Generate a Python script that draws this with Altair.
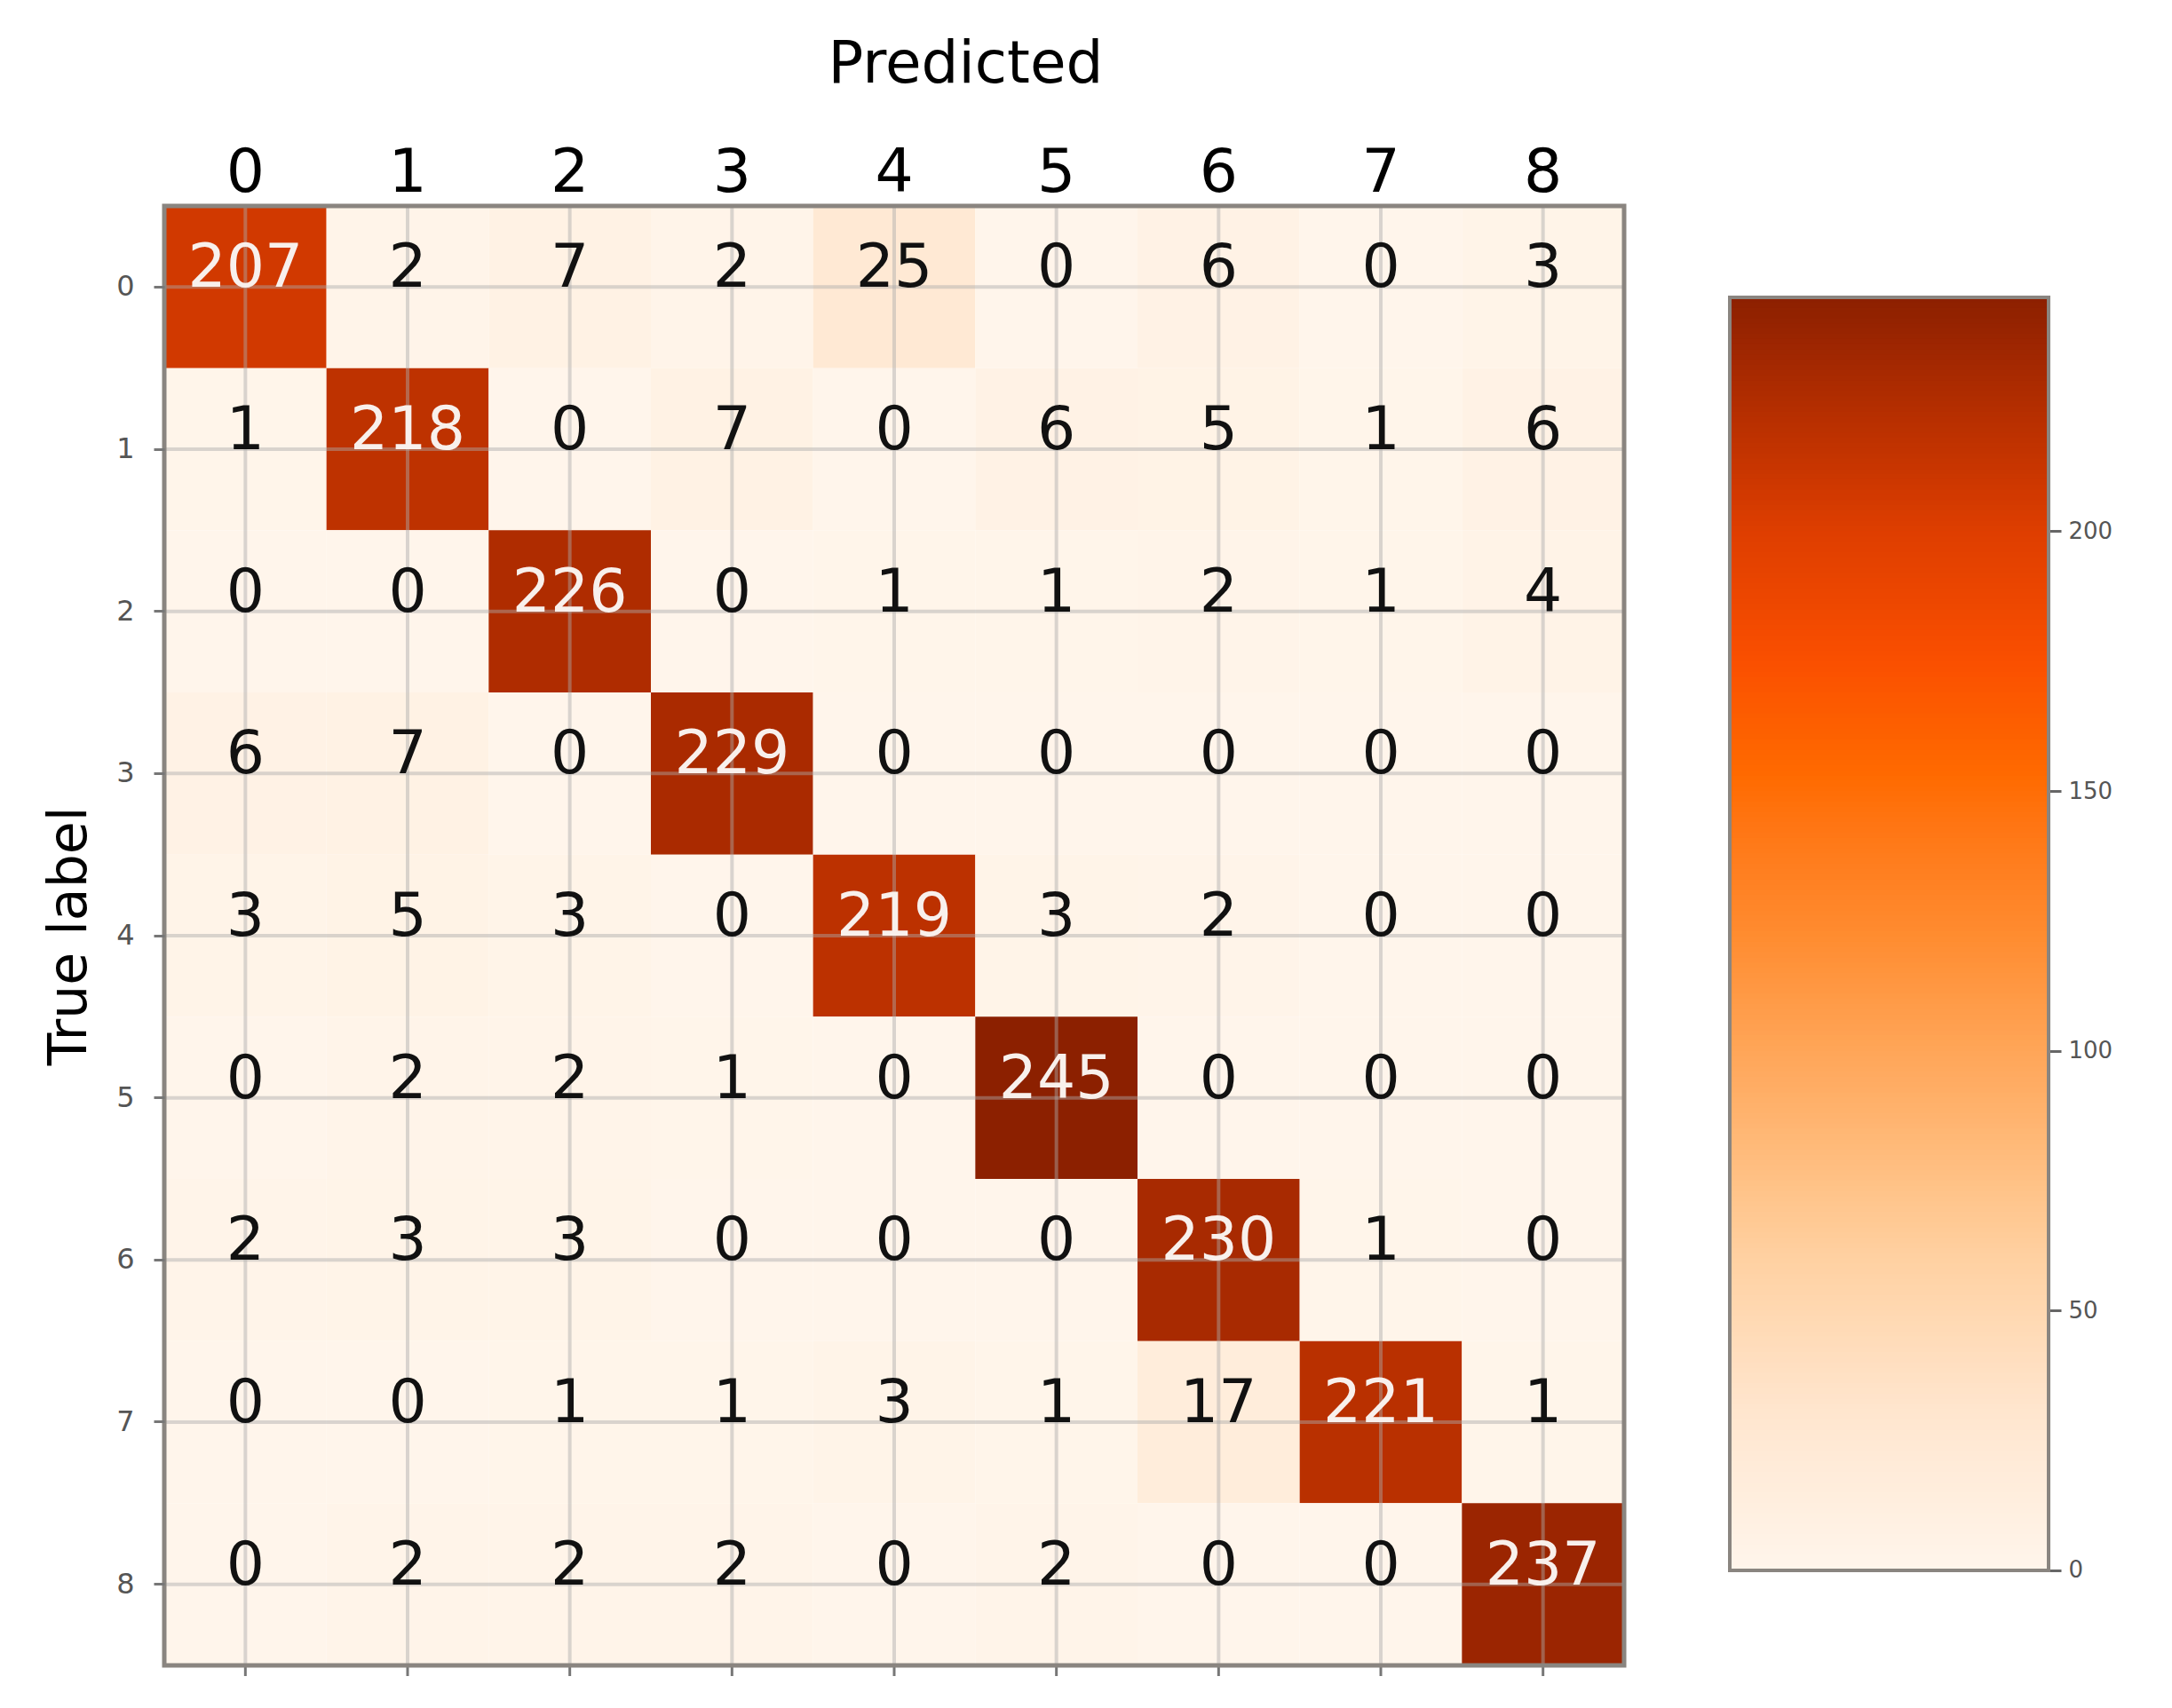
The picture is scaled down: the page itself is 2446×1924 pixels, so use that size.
import altair as alt
import pandas as pd

# ---- data ----
classes = [0, 1, 2, 3, 4, 5, 6, 7, 8]
row_0 = [207, 2, 7, 2, 25, 0, 6, 0, 3]
row_1 = [1, 218, 0, 7, 0, 6, 5, 1, 6]
row_2 = [0, 0, 226, 0, 1, 1, 2, 1, 4]
row_3 = [6, 7, 0, 229, 0, 0, 0, 0, 0]
row_4 = [3, 5, 3, 0, 219, 3, 2, 0, 0]
row_5 = [0, 2, 2, 1, 0, 245, 0, 0, 0]
row_6 = [2, 3, 3, 0, 0, 0, 230, 1, 0]
row_7 = [0, 0, 1, 1, 3, 1, 17, 221, 1]
row_8 = [0, 2, 2, 2, 0, 2, 0, 0, 237]
rows = [row_0, row_1, row_2, row_3, row_4, row_5, row_6, row_7, row_8]

colorbar_ticks = [0, 50, 100, 150, 200]
vmax = 245

# colour map stops (saturated "Oranges")
cmap_domain = [0, 30, 61, 92, 122, 153, 175, 200, 222, 245]
cmap_range = ["#fff5eb", "#ffe6cf", "#ffd0a0", "#ffae66", "#ff8c30",
              "#ff6a00", "#fa4f00", "#de3e00", "#b72f00", "#8c2000"]

records = []
for t, r in zip(classes, rows):
    for p, v in zip(classes, r):
        records.append({"true": t, "pred": p, "v": v})
df = pd.DataFrame(records)

W = 1644
H = 1644
FONT = "DejaVu Sans"

color_scale = alt.Scale(domain=cmap_domain, range=cmap_range)

x_top = alt.X(
    "pred:O",
    title="Predicted",
    scale=alt.Scale(paddingInner=0, paddingOuter=0),
    axis=alt.Axis(orient="top", ticks=False, domain=False, labelAngle=0,
                  labelFontSize=68, labelFont=FONT, labelColor="#000000",
                  labelPadding=3, titleFontSize=66, titleFont=FONT,
                  titleFontWeight="normal", titleColor="#000000",
                  titlePadding=55, titleX=W / 2 + 80, titleAlign="center",
                  grid=False),
)
y_left = alt.Y(
    "true:O",
    title="True label",
    scale=alt.Scale(paddingInner=0, paddingOuter=0),
    axis=alt.Axis(orient="left", ticks=True, tickSize=12, tickWidth=3,
                  tickColor="#777777", domain=False, labelFontSize=32,
                  labelFont=FONT, labelColor="#555555", labelPadding=22,
                  titleFontSize=60, titleFont=FONT, titleFontWeight="normal",
                  titleColor="#000000", titlePadding=21, grid=False),
)

base = alt.Chart(df)

cells = base.mark_rect().encode(
    x=x_top,
    y=y_left,
    color=alt.Color("v:Q", scale=color_scale, legend=None),
)

labels = base.mark_text(font=FONT, fontSize=68, baseline="alphabetic",
                        align="center").encode(
    x=alt.X("pred:O", title="Predicted", bandPosition=0.5),
    y=alt.Y("true:O", title="True label", bandPosition=0.5),
    text="v:Q",
    color=alt.when(alt.datum.v > 150).then(alt.value("#f8f0ec")).otherwise(alt.value("#111111")),
)

vgrid = base.transform_filter(alt.datum.true == 0).mark_rule(
    color="#aaaaaa", opacity=0.45, strokeWidth=4
).encode(
    x=alt.X("pred:O", title="Predicted", bandPosition=0.5),
)

bticks = base.transform_filter(alt.datum.true == 0).mark_rule(
    color="#777777", strokeWidth=3
).encode(
    x=alt.X("pred:O", title="Predicted", bandPosition=0.5),
    y=alt.value(H),
    y2=alt.value(H + 12),
)

hgrid = base.transform_filter(alt.datum.pred == 0).mark_rule(
    color="#aaaaaa", opacity=0.45, strokeWidth=4
).encode(
    y=alt.Y("true:O", title="True label", bandPosition=0.5),
)

frame = alt.Chart(pd.DataFrame({"a": [0]})).mark_rect(
    fillOpacity=0, stroke="#8a8580", strokeWidth=5
).encode(
    x=alt.value(0), x2=alt.value(W), y=alt.value(0), y2=alt.value(H)
)

heat = alt.layer(cells, vgrid, hgrid, labels, bticks, frame).properties(
    width=W, height=H
)

# ---- colour bar ----
cb_df = pd.DataFrame({"lo": list(range(vmax))})
cb_df["hi"] = cb_df["lo"] + 1.3
cb_df["mid"] = cb_df["lo"] + 0.5

CBW = 359
cb_y = alt.Scale(domain=[-18.3, 262.6], nice=False, zero=False)

cb_rects = alt.Chart(cb_df).mark_rect().encode(
    x=alt.value(0), x2=alt.value(CBW),
    y=alt.Y("lo:Q", scale=cb_y, title="",
            axis=alt.Axis(orient="right", values=colorbar_ticks, tickSize=14,
                          tickWidth=3, tickColor="#666666", domain=False,
                          grid=False, labelFontSize=26, labelFont=FONT,
                          labelColor="#555555", labelPadding=8, title="")),
    y2="hi:Q",
    color=alt.Color("mid:Q", scale=color_scale, legend=None),
)

cb_frame = alt.Chart(pd.DataFrame({"lo": [0], "hi": [vmax]})).mark_rect(
    fillOpacity=0, stroke="#8a8580", strokeWidth=4
).encode(
    x=alt.value(0), x2=alt.value(CBW),
    y=alt.Y("lo:Q", scale=cb_y, title=""),
    y2="hi:Q",
)

cbar = alt.layer(cb_rects, cb_frame).properties(width=CBW, height=H)

chart = alt.hconcat(heat, cbar, spacing=119, bounds="flush").properties(
    padding={"left": 40, "top": 31, "right": 20, "bottom": 20},
    background="white",
).configure_view(strokeWidth=0).resolve_scale(color="independent")

chart.save("out.html", embed_options={"renderer": "svg", "actions": False})
